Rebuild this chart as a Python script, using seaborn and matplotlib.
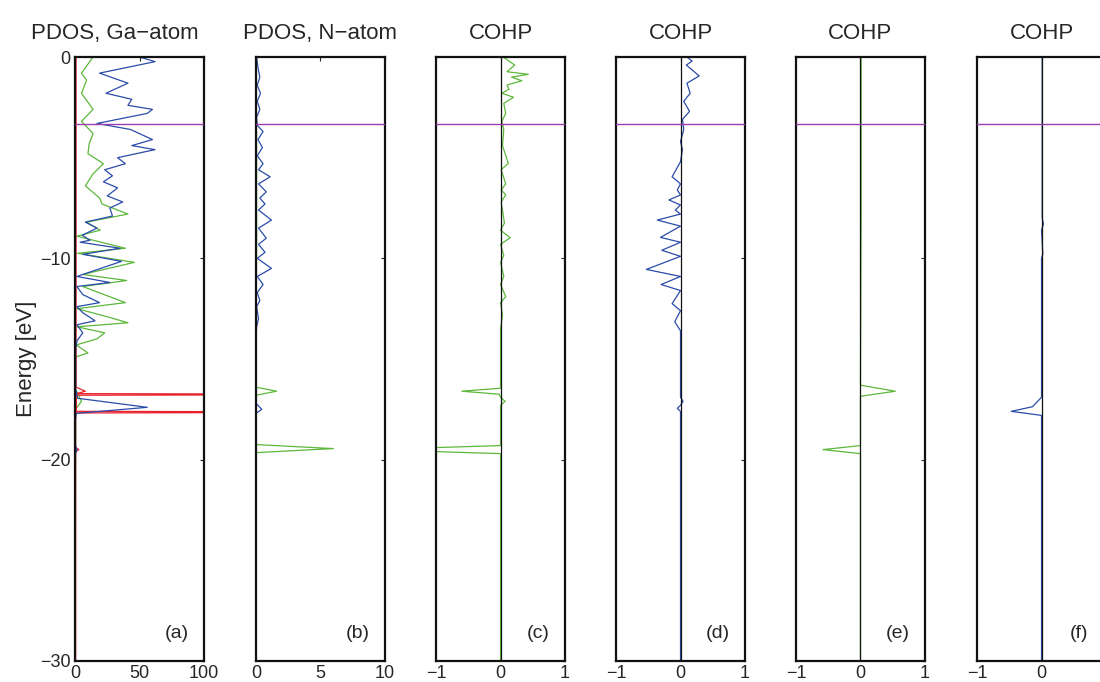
import numpy as np
import pandas as pd
import matplotlib
matplotlib.use("Agg")
import matplotlib.pyplot as plt
import seaborn as sns

# --- dados (energia em eV, valor em unidades do eixo x) ---

# (a) PDOS, Ga-atom
ga_blue_E = [0, -0.23, -0.8, -1.3, -1.8, -2.1, -2.4, -2.6, -2.8, -3.3, -3.6, -4.1, -4.4, -4.6,
             -5.0, -5.3, -5.6, -5.9, -6.2, -6.5, -6.9, -7.2, -7.5, -7.9, -8.2, -8.5, -8.85,
             -9.1, -9.2, -9.5, -9.8, -10.15, -10.9, -11.2, -11.4, -11.8, -12.2, -12.4, -12.7,
             -13.1, -13.3, -13.7, -14.1, -14.5, -16.5, -16.95, -17.4, -17.7, -18.0, -19.3,
             -19.5, -19.7, -30]
ga_blue_val = [50, 62, 19, 41, 24, 44, 41, 60, 56, 17, 43, 60, 44, 62,
               33, 39, 23, 29, 22, 33, 25, 37, 27, 29, 8, 17, 5.6,
               11.6, 4, 35, 6, 36, 1.5, 27, 1.5, 6, 19, 1.5, 6,
               15.5, 1.5, 6, 1.5, 0.5, 0.5, 2, 56, 1, 0.3, 0.3,
               1.5, 0.3, 0]

ga_green_E = [0, -0.8, -1.15, -1.8, -2.6, -3.2, -3.8, -4.3, -4.8, -5.3, -5.8, -6.4, -7.0, -7.3,
              -7.8, -8.2, -8.6, -8.9, -9.5, -9.75, -10.2, -10.8, -11.1, -11.4, -12.2, -12.5,
              -12.9, -13.2, -13.4, -13.7, -14.0, -14.3, -14.7, -14.9, -16.5, -17.1, -17.5, -30]
ga_green_val = [14, 5, 9, 5, 14, 5, 14, 11, 10, 22, 14, 8, 19, 21,
                41, 9, 19.5, 1.5, 39, 2, 46, 6, 40, 6, 39, 1.5,
                25, 41, 1.5, 23, 17, 1, 10, 0.5, 0.5, 5, 0.5, 0]

ga_red_E = [0, -16.4, -16.6, -16.72, -16.76, -16.8, -17.6, -17.64, -17.68, -19.4, -19.5, -19.6, -30]
ga_red_val = [0.8, 0.8, 8, 1, 300, 1, 1, 300, 0.5, 0.5, 3, 0.5, 0.5]

# (b) PDOS, N-atom
n_blue_E = [0, -0.5, -1.0, -1.4, -1.8, -2.2, -2.6, -3.0, -3.4, -3.7, -4.1, -4.5, -4.9, -5.3,
            -5.6, -5.95, -6.3, -6.7, -7.0, -7.3, -7.6, -8.1, -8.5, -9.0, -9.3, -9.7, -10.0,
            -10.5, -10.9, -11.3, -11.7, -12.1, -12.4, -13.0, -13.4, -14.0, -17.2, -17.5,
            -17.7, -30]
n_blue_val = [0.05, 0.15, 0.3, 0.1, 0.35, 0.1, 0.3, 0.05, 0.1, 0.55, 0.15, 0.5, 0.1, 0.55,
              0.2, 1.1, 0.2, 0.8, 0.3, 0.7, 0.2, 1.2, 0.2, 0.8, 0.2, 0.7, 0.1,
              1.2, 0.1, 0.55, 0.1, 0.3, 0.05, 0.2, 0.05, 0.0, 0.0, 0.45,
              0.0, 0.0]

n_green_E = [0, -8.0, -9.0, -16.4, -16.6, -16.8, -19.25, -19.45, -19.65, -30]
n_green_val = [0.03, 0.05, 0.05, 0.0, 1.6, 0.0, 0.0, 6.0, 0.0, 0.0]

# (c) COHP
c_green_E = [0, -0.4, -0.73, -0.86, -1.0, -1.18, -1.39, -1.6, -1.8, -2.0, -2.3, -2.8, -3.2,
             -3.6, -4.4, -5.28, -5.6, -6.3, -6.6, -6.85, -7.2, -8.25, -8.6, -8.98, -9.3,
             -9.85, -10.2, -10.9, -11.3, -11.9, -12.2, -12.8, -13.5, -16.45, -16.6, -16.75,
             -16.9, -17.1, -17.3, -19.3, -19.5, -19.7, -30]
c_green_val = [0.04, 0.22, 0.1, 0.43, 0.17, 0.33, 0.1, 0.13, 0.02, 0.2, 0.05, 0.08, 0.02,
               0.05, 0.03, 0.12, 0.01, 0.08, 0.01, 0.08, 0.01, 0.06, 0.0, 0.15, 0.0,
               0.05, 0.0, 0.05, 0.0, 0.08, 0.0, 0.03, 0.0, 0.0, -0.6, -0.02,
               0.0, 0.07, 0.0, 0.0, -2.0, 0.0, 0.0]

# (d) COHP
d_blue_E = [0, -0.2, -0.4, -0.94, -1.3, -1.8, -2.2, -2.7, -3.1, -3.6, -4.2, -4.6, -5.2,
            -5.95, -6.3, -6.6, -6.85, -7.1, -7.35, -7.6, -7.8, -8.1, -8.4, -8.96, -9.2,
            -9.6, -9.9, -10.55, -10.9, -11.3, -11.6, -12.25, -12.6, -13.15, -13.6, -16.9,
            -17.1, -17.3, -17.45, -17.6, -30]
d_blue_val = [0.1, 0.18, 0.09, 0.29, 0.1, 0.15, 0.05, 0.14, 0.03, 0.05, 0.0, 0.03, 0.0,
              -0.13, 0.0, -0.05, 0.0, -0.18, 0.0, -0.08, 0.0, -0.36, 0.0, -0.31, 0.0,
              -0.29, 0.0, -0.53, 0.0, -0.3, 0.0, -0.13, 0.0, -0.09, 0.0, 0.0,
              0.04, 0.0, -0.05, 0.0, 0.0]

# (e) COHP
e_green_E = [0, -8.0, -16.3, -16.6, -16.85, -19.3, -19.5, -19.7, -30]
e_green_val = [0.01, 0.01, 0.0, 0.54, 0.0, 0.0, -0.58, 0.0, 0.0]

# (f) COHP
f_blue_E = [0, -8.0, -8.3, -8.6, -9.8, -10.0, -16.9, -17.37, -17.6, -17.8, -30]
f_blue_val = [0.01, 0.01, 0.03, 0.0, 0.02, 0.0, 0.0, -0.14, -0.47, 0.0, 0.0]

fermi_level = -3.33

titles = ["PDOS, Ga\u2212atom", "PDOS, N\u2212atom", "COHP", "COHP", "COHP", "COHP"]
panel_labels = ["(a)", "(b)", "(c)", "(d)", "(e)", "(f)"]
x_limits = [(0, 100), (0, 10), (-1, 1), (-1, 1), (-1, 1), (-1, 1)]
# o último painel sai da figura à direita, por isso o rótulo "1" não aparece
x_ticks = [[0, 50, 100], [0, 5, 10], [-1, 0, 1], [-1, 0, 1], [-1, 0, 1], [-1, 0]]
# o título do painel (a) está deslocado para a esquerda na figura original
title_x = [0.31, 0.5, 0.5, 0.5, 0.5, 0.5]

blue = "#2b4ca8"
green = "#5cb83a"
red = "#e8202a"
purple = "#9b3fb0"

panels = [
    [(ga_green_E, ga_green_val, green), (ga_red_E, ga_red_val, red), (ga_blue_E, ga_blue_val, blue)],
    [(n_green_E, n_green_val, green), (n_blue_E, n_blue_val, blue)],
    [(c_green_E, c_green_val, green)],
    [(d_blue_E, d_blue_val, blue)],
    [(e_green_E, e_green_val, green)],
    [(f_blue_E, f_blue_val, blue)],
]

# --- estilo ---
sns.set_style("white")
plt.rcParams["font.family"] = ["Liberation Sans", "DejaVu Sans"]
plt.rcParams["axes.unicode_minus"] = True

fig = plt.figure(figsize=(11, 6.82), dpi=100)

lefts = [0.0682, 0.2327, 0.3964, 0.5600, 0.7236, 0.8882]
for i, left in enumerate(lefts):
    ax = fig.add_axes([left, 0.0308, 0.1173, 0.8856])
    for E, val, col in panels[i]:
        df = pd.DataFrame({"E": E, "val": val})
        sns.lineplot(data=df, x="val", y="E", sort=False, estimator=None,
                     color=col, lw=0.9, ax=ax, zorder=2)
    if i >= 2:
        ax.axvline(0, color="#111111", lw=0.9, zorder=2.5)
    ax.axhline(fermi_level, color=purple, lw=1.0, zorder=3)
    ax.set_xlim(*x_limits[i])
    ax.set_ylim(-30, 0)
    ax.set_xticks(x_ticks[i])
    ax.set_yticks([-30, -20, -10, 0])
    ax.set_xlabel("")
    ax.set_ylabel("")
    ax.tick_params(direction="in", length=3, width=0.8, top=True, right=True,
                   labelsize=13, pad=3)
    if i > 0:
        ax.set_yticklabels([])
    for s in ax.spines.values():
        s.set_linewidth(1.6)
        s.set_color("#111111")
    ax.set_title(titles[i], fontsize=16, pad=13, x=title_x[i])
    ax.text(0.79, 0.046, panel_labels[i], transform=ax.transAxes,
            fontsize=14, ha="center", va="center")
    if i == 0:
        ax.set_ylabel("Energy [eV]", fontsize=16, labelpad=2)

fig.savefig("out.png", dpi=100)
